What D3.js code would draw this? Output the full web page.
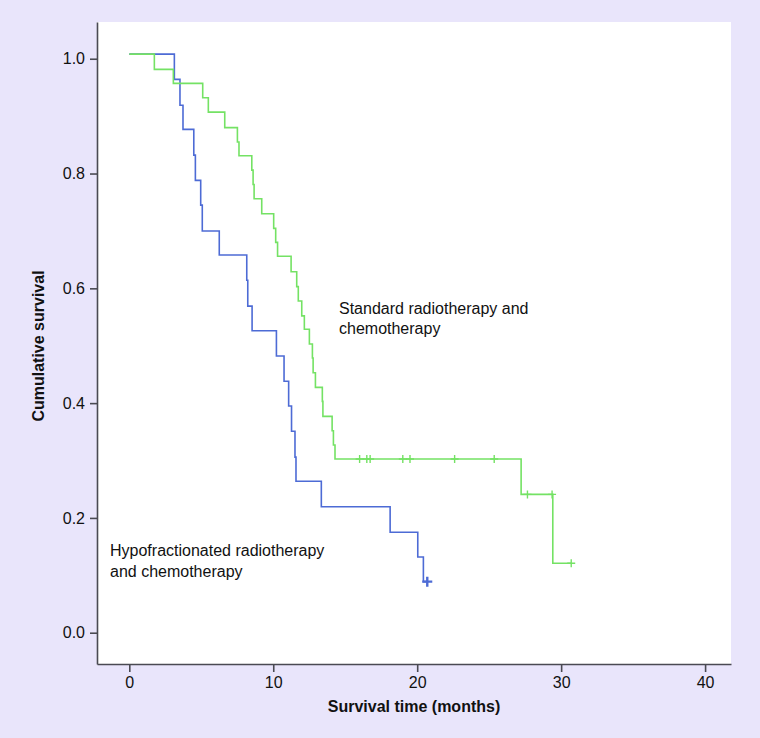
<!DOCTYPE html>
<html>
<head>
<meta charset="utf-8">
<script src="https://cdn.jsdelivr.net/npm/d3@7"></script>
<style>
  html, body { margin: 0; padding: 0; background: #e9e5fb; }
  svg { display: block; }
  text { font-family: "Liberation Sans", Arial, Helvetica, sans-serif; fill: #111; }
</style>
</head>
<body>
<svg id="chart" width="760" height="738"></svg>
<script>
// ---- data ----
const hypoTimes = [0, 3.13, 3.52, 3.73, 4.48, 4.59, 4.96, 5.07, 6.25, 8.16, 8.23, 8.53, 10.22, 10.75, 11.07, 11.27, 11.51, 11.58, 13.34, 18.12, 20.04, 20.43];
const hypoSurv  = [1.008, 0.964, 0.919, 0.877, 0.832, 0.788, 0.745, 0.700, 0.658, 0.614, 0.569, 0.526, 0.482, 0.438, 0.395, 0.351, 0.306, 0.264, 0.2195, 0.175, 0.132, 0.089];
const hypoEnd = 20.7;
const hypoCensor = [20.7];

const stdTimes = [0, 1.74, 3.06, 5.10, 5.49, 6.63, 7.51, 7.62, 8.51, 8.60, 8.67, 9.20, 10.03, 10.17, 10.30, 11.24, 11.63, 11.74, 11.98, 12.16, 12.51, 12.72, 12.77, 12.93, 13.41, 13.45, 14.09, 14.18, 14.29, 27.22, 29.42];
const stdSurv  = [1.008, 0.9815, 0.957, 0.932, 0.907, 0.880, 0.855, 0.831, 0.806, 0.781, 0.756, 0.730, 0.7045, 0.680, 0.656, 0.629, 0.603, 0.578, 0.552, 0.5286, 0.503, 0.4786, 0.453, 0.4275, 0.403, 0.377, 0.352, 0.327, 0.3026, 0.241, 0.121];
const stdEnd = 30.7;
const stdCensor = [16.0, 16.5, 16.73, 19.0, 19.5, 22.6, 25.35, 27.66, 29.37, 30.7];

const xTicks = [0, 10, 20, 30, 40];
const yTicks = [0.0, 0.2, 0.4, 0.6, 0.8, 1.0];
const xTitle = "Survival time (months)";
const yTitle = "Cumulative survival";
const stdLabel = ["Standard radiotherapy and", "chemotherapy"];
const hypoLabel = ["Hypofractionated radiotherapy", "and chemotherapy"];

// ---- layout ----
const plot = { left: 97, right: 731, top: 22, bottom: 664 };
const colors = { hypo: "#4d6bd5", std: "#74e264", axis: "#4a4a52" };

const svg = d3.select("#chart");

const x = d3.scaleLinear().domain([-2.244, 41.8]).range([plot.left, plot.right]);
const y = d3.scaleLinear().domain([-0.0545, 1.064]).range([plot.bottom, plot.top]);

svg.append("rect")
  .attr("x", plot.left).attr("y", plot.top)
  .attr("width", plot.right - plot.left).attr("height", plot.bottom - plot.top)
  .attr("fill", "#ffffff");

// axes
const xAxis = svg.append("g")
  .attr("transform", `translate(0,${plot.bottom})`)
  .call(d3.axisBottom(x).tickValues(xTicks).tickSize(8).tickSizeOuter(0).tickPadding(5).tickFormat(d3.format("d")));
const yAxis = svg.append("g")
  .attr("transform", `translate(${plot.left},0)`)
  .call(d3.axisLeft(y).tickValues(yTicks).tickSize(7).tickSizeOuter(0).tickPadding(5).tickFormat(d3.format(".1f")));

[xAxis, yAxis].forEach(g => {
  g.attr("font-size", 16).attr("font-family", '"Liberation Sans", Arial, sans-serif');
  g.select(".domain").attr("stroke", colors.axis).attr("stroke-width", 1.6);
  g.selectAll(".tick line").attr("stroke", colors.axis).attr("stroke-width", 1.6);
  g.selectAll(".tick text").attr("font-size", 16).attr("fill", "#111");
});

// titles
svg.append("text")
  .attr("x", (plot.left + plot.right) / 2).attr("y", 712)
  .attr("text-anchor", "middle").attr("font-weight", "bold").attr("font-size", 16)
  .text(xTitle);
svg.append("text")
  .attr("transform", `translate(44,346) rotate(-90)`)
  .attr("text-anchor", "middle").attr("font-weight", "bold").attr("font-size", 16)
  .text(yTitle);

// curves
const line = d3.line().x(d => x(d[0])).y(d => y(d[1])).curve(d3.curveStepAfter);

function drawCurve(times, surv, end, censor, color, big) {
  const pts = times.map((t, i) => [t, surv[i]]);
  pts.push([end, surv[surv.length - 1]]);
  svg.append("path").datum(pts)
    .attr("d", line).attr("fill", "none")
    .attr("stroke", color).attr("stroke-width", 1.6);

  const levelAt = t => {
    let v = surv[0];
    times.forEach((tt, i) => { if (tt <= t) v = surv[i]; });
    return v;
  };
  const h = big ? 5 : 4;
  censor.forEach(t => {
    const cx = x(t), cy = y(levelAt(t));
    svg.append("path")
      .attr("d", `M${cx},${cy - h}V${cy + h}M${cx - h},${cy}H${cx + h}`)
      .attr("stroke", color).attr("stroke-width", big ? 2.4 : 1.4)
      .attr("fill", "none");
  });
}

drawCurve(hypoTimes, hypoSurv, hypoEnd, hypoCensor, colors.hypo, true);
drawCurve(stdTimes, stdSurv, stdEnd, stdCensor, colors.std, false);

// labels
function label(lines, x0, y0, dy) {
  const t = svg.append("text").attr("font-size", 16);
  lines.forEach((s, i) => t.append("tspan").attr("x", x0).attr("y", y0 + i * dy).text(s));
}
label(stdLabel, 339, 314, 19.5);
label(hypoLabel, 110, 556, 21);
</script>
</body>
</html>
